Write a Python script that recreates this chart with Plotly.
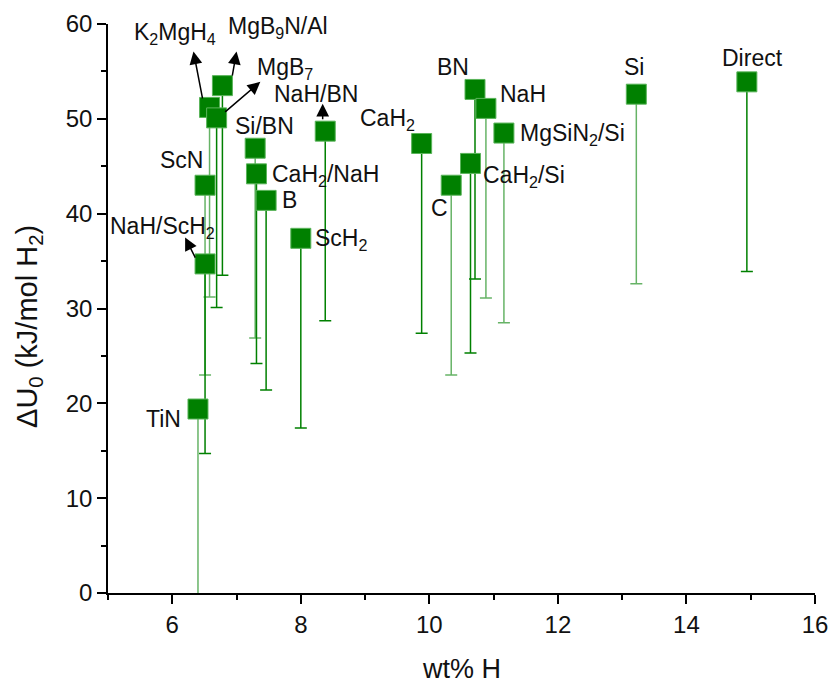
import plotly.graph_objects as go

names = ["TiN", "NaH/ScH2", "ScN", "K2MgH4", "MgB7", "MgB9N/Al", "Si/BN", "CaH2/NaH", "B",
         "ScH2", "NaH/BN", "CaH2", "C", "CaH2/Si", "BN", "NaH", "MgSiN2/Si", "Si", "Direct"]
wt_h = [6.40, 6.51, 6.51, 6.58, 6.69, 6.78, 7.29, 7.31, 7.46,
        8.00, 8.38, 9.88, 10.34, 10.64, 10.71, 10.88, 11.16, 13.22, 14.94]
du0 = [19.4, 34.7, 43.0, 51.2, 50.1, 53.5, 46.9, 44.2, 41.4,
       37.4, 48.7, 47.4, 43.0, 45.3, 53.1, 51.1, 48.5, 52.6, 53.9]
err_low = [20] * len(names)
dark_err = ["NaH/ScH2", "MgB7", "MgB9N/Al", "CaH2/NaH", "B", "ScH2", "NaH/BN",
            "CaH2", "CaH2/Si", "BN", "Direct"]

labels_html = {
    "TiN": "TiN", "NaH/ScH2": "NaH/ScH<sub>2</sub>", "ScN": "ScN",
    "K2MgH4": "K<sub>2</sub>MgH<sub>4</sub>", "MgB7": "MgB<sub>7</sub>",
    "MgB9N/Al": "MgB<sub>9</sub>N/Al", "Si/BN": "Si/BN", "CaH2/NaH": "CaH<sub>2</sub>/NaH",
    "B": "B", "ScH2": "ScH<sub>2</sub>", "NaH/BN": "NaH/BN", "CaH2": "CaH<sub>2</sub>",
    "C": "C", "CaH2/Si": "CaH<sub>2</sub>/Si", "BN": "BN", "NaH": "NaH",
    "MgSiN2/Si": "MgSiN<sub>2</sub>/Si", "Si": "Si", "Direct": "Direct",
}
# label anchor positions (data units)
label_pos = {
    "TiN": (5.86, 18.4), "NaH/ScH2": (5.85, 38.5), "ScN": (6.15, 45.7),
    "K2MgH4": (6.05, 59.0), "MgB7": (7.76, 55.3), "MgB9N/Al": (7.64, 59.6),
    "Si/BN": (7.43, 49.2), "CaH2/NaH": (8.38, 44.0), "B": (7.82, 41.4),
    "ScH2": (8.62, 37.3), "NaH/BN": (8.24, 52.6), "CaH2": (9.35, 49.9),
    "C": (10.16, 40.6), "CaH2/Si": (11.48, 43.9), "BN": (10.37, 55.5),
    "NaH": (11.45, 52.6), "MgSiN2/Si": (12.22, 48.4), "Si": (13.18, 55.5),
    "Direct": (15.03, 56.4),
}
# arrows: (tail x, tail y, head x, head y)
arrows = [
    (6.475, 52.0, 6.33, 57.1),
    (6.93, 54.4, 7.00, 57.1),
    (6.80, 50.6, 7.37, 53.9),
    (8.34, 49.8, 8.34, 51.6),
    (6.37, 35.2, 6.20, 37.5),
]

GREEN = "#008000"
LIGHT = "rgba(0,128,0,0.6)"
FONT = "Liberation Sans, Arial, sans-serif"

fig = go.Figure()
for grp, col in [(True, GREEN), (False, LIGHT)]:
    idx = [i for i, n in enumerate(names) if (n in dark_err) == grp]
    fig.add_trace(go.Scatter(
        x=[wt_h[i] for i in idx], y=[du0[i] for i in idx], mode="markers",
        marker=dict(size=1, color="rgba(0,0,0,0)"),
        error_y=dict(type="data", symmetric=False, array=[0] * len(idx),
                     arrayminus=[err_low[i] for i in idx], color=col,
                     thickness=1.5, width=6),
        showlegend=False, hoverinfo="skip"))

fig.add_trace(go.Scatter(
    x=wt_h, y=du0, mode="markers", text=names,
    marker=dict(symbol="square", size=20, color=GREEN,
                line=dict(color="rgba(90,180,90,1)", width=1)),
    showlegend=False))

for n in names:
    lx, ly = label_pos[n]
    fig.add_annotation(x=lx, y=ly, text=labels_html[n], showarrow=False,
                       xanchor="center", yanchor="middle",
                       font=dict(family=FONT, size=23, color="#111"))

for tx, ty, hx, hy in arrows:
    fig.add_annotation(x=hx, y=hy, ax=tx, ay=ty, axref="x", ayref="y",
                       xref="x", yref="y", text="", showarrow=True,
                       arrowhead=2, arrowsize=1.7, arrowwidth=1.5, arrowcolor="black")

# axis titles
fig.add_annotation(x=0.5, y=-0.134, xref="paper", yref="paper", text="wt% H",
                   showarrow=False, xanchor="center", yanchor="middle",
                   font=dict(family=FONT, size=27, color="#111"))
fig.add_annotation(x=-0.112, y=0.469, xref="paper", yref="paper",
                   text="ΔU<sub>0</sub> (kJ/mol H<sub>2</sub>)", textangle=-90,
                   showarrow=False, xanchor="center", yanchor="middle",
                   font=dict(family=FONT, size=29, color="#111"))

fig.update_layout(
    width=832, height=686,
    margin=dict(l=108, r=17, t=24, b=93),
    paper_bgcolor="white", plot_bgcolor="white",
    font=dict(family=FONT, size=24, color="black"),
    xaxis=dict(range=[5, 16], tickvals=[6, 8, 10, 12, 14, 16], automargin=False,
               ticks="outside", ticklen=9, tickwidth=1.5, tickcolor="black",
               showline=True, linecolor="black", linewidth=1.5, showgrid=False, zeroline=False,
               minor=dict(ticks="outside", dtick=1, tick0=5, ticklen=5, tickwidth=1.5,
                          tickcolor="black", showgrid=False),
               tickfont=dict(size=24, color="#111")),
    yaxis=dict(range=[0, 60], dtick=10, tick0=0, automargin=False,
               ticks="outside", ticklen=9, tickwidth=1.5, tickcolor="black",
               showline=True, linecolor="black", linewidth=1.5, showgrid=False, zeroline=False,
               minor=dict(ticks="outside", dtick=5, ticklen=5, tickwidth=1.5,
                          tickcolor="black", showgrid=False),
               tickfont=dict(size=24, color="#111")),
)

fig.write_html("out.html")
